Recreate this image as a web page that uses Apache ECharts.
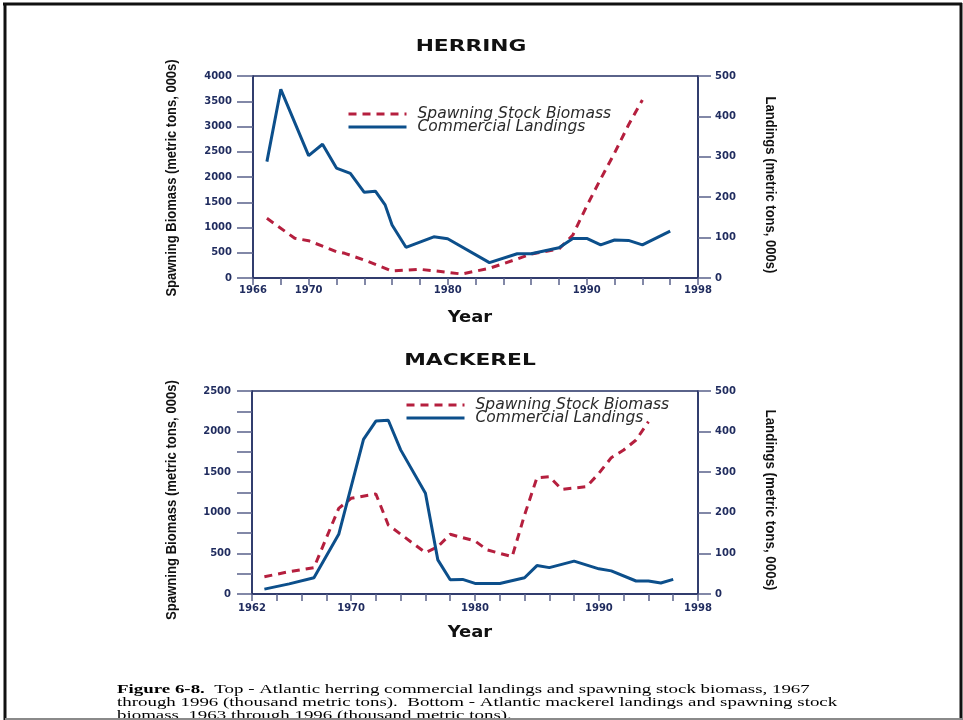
<!DOCTYPE html>
<html>
<head>
<meta charset="utf-8">
<script src="https://cdn.jsdelivr.net/npm/echarts@6/dist/echarts.min.js"></script>
<style>
  html, body { margin: 0; padding: 0; background: #fff; }
  #chart { width: 963px; height: 720px; }
</style>
</head>
<body>
<div id="chart"></div>
<script>
// Atlantic herring (1967-1996)
const herringSsbYears = [1967, 1969, 1970, 1972, 1972.6, 1974, 1976, 1978, 1980, 1981, 1983, 1985, 1986, 1988, 1989, 1990, 1991, 1992, 1993, 1994];
const herringSsb      = [1182, 786, 739, 521, 489, 356, 139, 172, 113, 79, 192, 376, 475, 574, 851, 1426, 1960, 2475, 3030, 3525];
const herringLandYears = [1967, 1968, 1970, 1971, 1972, 1973, 1974, 1974.8, 1975.5, 1976, 1977, 1979, 1980, 1983, 1985, 1986, 1988, 1989, 1990, 1991, 1992, 1993, 1994, 1996];
const herringLand      = [288, 467, 303, 331, 272, 259, 212, 215, 181, 131, 76, 102, 97, 38, 60, 60, 75, 98, 98, 82, 94, 93, 82, 116];

// Atlantic mackerel (1963-1996)
const mackSsbYears = [1963, 1965, 1967, 1969, 1970, 1972, 1973, 1976, 1977, 1978, 1980, 1981, 1983, 1984, 1985, 1986, 1987, 1989, 1990, 1991, 1992, 1993, 1994];
const mackSsb      = [213, 275, 324, 1055, 1178, 1232, 850, 509, 582, 735, 653, 542, 460, 973, 1432, 1445, 1289, 1321, 1486, 1679, 1773, 1897, 2122];
const mackLandYears = [1963, 1965, 1967, 1969, 1971, 1972, 1973, 1974, 1976, 1977, 1978, 1979, 1980, 1982, 1984, 1985, 1986, 1988, 1990, 1991, 1993, 1994, 1995, 1996];
const mackLand      = [12, 25, 40, 147, 381, 426, 428, 355, 248, 84, 35, 36, 26, 26, 40, 70, 65, 81, 62, 57, 32, 32, 27, 36];

// Axis tick labels
const herringYearLabels = [1966, 1970, 1980, 1990, 1998];
const mackYearLabels = [1962, 1970, 1980, 1990, 1998];

const seriesNames = ['Spawning Stock Biomass', 'Commercial Landings'];
const titles = ['HERRING', 'MACKEREL'];
const leftAxisName = 'Spawning Biomass (metric tons, 000s)';
const rightAxisName = 'Landings (metric tons, 000s)';
const xAxisName = 'Year';
const captionLines = [
  '{b|Figure 6-8.}  Top - Atlantic herring commercial landings and spawning stock biomass, 1967',
  'through 1996 (thousand metric tons).  Bottom - Atlantic mackerel landings and spawning stock',
  'biomass, 1963 through 1996 (thousand metric tons).'
];

const zip = (xs, ys) => xs.map((x, i) => [x, ys[i]]);

const NAVY = '#253164';
const TICK = '#59618a';
const LABEL = '#1f2b5e';
const BLUE = '#0c4f8b';
const RED = '#b51f3e';

const tickFont = { fontFamily: 'DejaVu Sans', fontWeight: 'bold', fontSize: 10, color: LABEL };

function xAxis(gridIndex, min, labels, margin) {
  return {
    type: 'value', gridIndex, min, max: 1998, interval: 2,
    axisLine: { lineStyle: { color: NAVY, width: 1.5 } },
    axisTick: { length: 7, lineStyle: { color: TICK, width: 1.5 } },
    axisLabel: Object.assign({ margin, formatter: v => labels.indexOf(v) >= 0 ? String(v) : '' }, tickFont),
    splitLine: { show: false }
  };
}

function yAxis(gridIndex, pos, max, interval, labelEvery, tickLen, margin) {
  return {
    type: 'value', gridIndex, position: pos, min: 0, max, interval,
    axisLine: { show: true, lineStyle: { color: NAVY, width: 1.5 } },
    axisTick: { show: true, length: tickLen, lineStyle: { color: TICK, width: 1.5 } },
    axisLabel: Object.assign({ margin, formatter: v => v % labelEvery === 0 ? String(v) : '' }, tickFont),
    splitLine: { show: false }
  };
}

function ssbSeries(xi, yi, data) {
  return {
    name: seriesNames[0], type: 'line', xAxisIndex: xi, yAxisIndex: yi, data,
    symbol: 'none', z: 2,
    lineStyle: { color: RED, width: 3, type: [8, 6] }, itemStyle: { color: RED }
  };
}
function landSeries(xi, yi, data) {
  return {
    name: seriesNames[1], type: 'line', xAxisIndex: xi, yAxisIndex: yi, data,
    symbol: 'none', z: 3,
    lineStyle: { color: BLUE, width: 3 }, itemStyle: { color: BLUE }
  };
}

function legend(left, top) {
  return {
    data: seriesNames, orient: 'vertical', left, top, padding: 0,
    icon: 'inherit', itemStyle: { opacity: 0 }, lineStyle: { width: 3 },
    itemWidth: 58, itemHeight: 11, itemGap: -3, selectedMode: false,
    textStyle: { fontFamily: 'DejaVu Sans', fontStyle: 'italic', fontSize: 15.5, color: '#2a2a2a', lineHeight: 12, padding: [0, 0, 0, 6] }
  };
}

function centeredText(x, y, text, font, sx) {
  return { type: 'text', x, y, scaleX: sx, style: { text, font, fill: '#111', textAlign: 'center', textVerticalAlign: 'middle' } };
}
function vText(x, y, text, rot, s) {
  return { type: 'text', x, y, rotation: rot, scaleX: s, style: { text, font: 'bold 15px "Liberation Sans"', fill: '#111', textAlign: 'center', textVerticalAlign: 'middle' } };
}
function line(x1, y1, x2, y2, color, w) {
  return { type: 'line', shape: { x1, y1, x2, y2 }, style: { stroke: color, lineWidth: w } };
}

const graphics = [
  // page frame
  line(3, 4, 962, 4, '#111', 3),
  line(5, 3, 5, 720, '#111', 3),
  line(961, 3, 961, 720, '#111', 3),
  // panel titles and axis names
  centeredText(471, 47, titles[0], 'bold 15px "DejaVu Sans"', 1.45),
  centeredText(470, 361, titles[1], 'bold 15px "DejaVu Sans"', 1.45),
  centeredText(470, 318, xAxisName, 'bold 16px "DejaVu Sans"', 1.12),
  centeredText(470, 633, xAxisName, 'bold 16px "DejaVu Sans"', 1.12),
  vText(172, 178, leftAxisName, Math.PI / 2, 0.865),
  vText(172, 500, leftAxisName, Math.PI / 2, 0.875),
  vText(770, 185, rightAxisName, -Math.PI / 2, 0.87),
  vText(770, 500, rightAxisName, -Math.PI / 2, 0.89)
];
captionLines.forEach((t, i) => {
  graphics.push({
    type: 'text', x: 117, y: 689.5 + i * 13, scaleX: 1.4,
    style: {
      text: t, font: '13.5px "Liberation Serif"', fill: '#000', textAlign: 'left', textVerticalAlign: 'middle',
      rich: { b: { font: 'bold 13.5px "Liberation Serif"', fill: '#000' } }
    }
  });
});
graphics.push(line(5, 719, 962, 719, '#8a8a8a', 2));

const chart = echarts.init(document.getElementById('chart'), null, { renderer: 'canvas' });
chart.setOption({
  backgroundColor: '#fff',
  animation: false,
  grid: [
    { left: 253, right: 265, top: 76, height: 202, show: true, borderColor: NAVY, borderWidth: 1.5, backgroundColor: 'transparent' },
    { left: 252, right: 265, top: 391, height: 203, show: true, borderColor: NAVY, borderWidth: 1.5, backgroundColor: 'transparent' }
  ],
  xAxis: [
    xAxis(0, 1966, herringYearLabels, 7),
    xAxis(1, 1962, mackYearLabels, 9)
  ],
  yAxis: [
    yAxis(0, 'left', 4000, 500, 500, 16, 21),
    yAxis(0, 'right', 500, 100, 100, 13, 17),
    yAxis(1, 'left', 2500, 250, 500, 15, 21),
    yAxis(1, 'right', 500, 100, 100, 13, 17)
  ],
  legend: [legend(347, 106), legend(405, 397)],
  series: [
    ssbSeries(0, 0, zip(herringSsbYears, herringSsb)),
    landSeries(0, 1, zip(herringLandYears, herringLand)),
    ssbSeries(1, 2, zip(mackSsbYears, mackSsb)),
    landSeries(1, 3, zip(mackLandYears, mackLand))
  ],
  graphic: graphics
});
</script>
</body>
</html>
